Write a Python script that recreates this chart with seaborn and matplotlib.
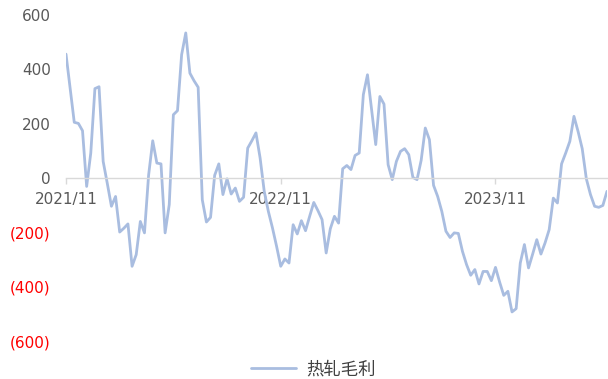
import matplotlib
matplotlib.use("Agg")
import matplotlib.pyplot as plt
import seaborn as sns
import pandas as pd
import numpy as np

series_name = "热轧毛利"
week_index = list(range(132))
margin_values = [
    456, 330, 205, 201, 174, -31, 92, 329, 336, 61,
    -20, -104, -68, -199, -185, -169, -325, -282, -160, -202,
    10, 137, 55, 52, -202, -98, 233, 248, 454, 534,
    386, 358, 334, -80, -162, -145, 10, 52, -61, -3,
    -59, -37, -86, -71, 110, 137, 166, 74, -49, -123,
    -184, -252, -325, -298, -313, -172, -206, -157, -194, -141,
    -90, -120, -153, -276, -187, -141, -166, 34, 46, 31,
    83, 92, 307, 380, 251, 123, 300, 272, 49, -6,
    61, 98, 108, 86, 2, -6, 65, 184, 141, -27,
    -68, -123, -196, -219, -202, -204, -270, -319, -358, -337,
    -390, -344, -344, -378, -329, -383, -432, -417, -493, -481,
    -313, -245, -331, -280, -227, -280, -239, -190, -74, -92,
    52, 92, 135, 227, 171, 108, -3, -61, -104, -108,
    -101, -49,
]
xtick_pos = [0, 52, 104]
xtick_labels = ["2021/11", "2022/11", "2023/11"]
ytick_vals = [600, 400, 200, 0, -200, -400, -600]
ytick_labels = ["600", "400", "200", "0", "(200)", "(400)", "(600)"]

df = pd.DataFrame({"week": week_index, "value": margin_values, "series": series_name})

sns.set_theme(style="white")
plt.rcParams["font.family"] = ["DejaVu Sans", "Noto Sans CJK SC"]

fig = plt.figure(figsize=(6.08, 3.79), dpi=100)
ax = fig.add_axes([66/608, 1 - 341/379, 541/608, (341 - 15)/379])

sns.lineplot(data=df, x="week", y="value", hue="series", palette=["#A9BDE0"],
             linewidth=2.0, ax=ax, legend=False)

ax.set_xlim(0, 131)
ax.set_ylim(-600, 600)
ax.set_xlabel("")
ax.set_ylabel("")

for s in ["top", "right", "left"]:
    ax.spines[s].set_visible(False)
ax.spines["bottom"].set_position(("data", 0))
ax.spines["bottom"].set_color("#D9D9D9")
ax.spines["bottom"].set_linewidth(1.0)

ax.set_xticks(xtick_pos)
ax.set_xticklabels(xtick_labels)
ax.tick_params(axis="x", direction="out", length=4, width=1, color="#D9D9D9",
               labelsize=11, labelcolor="#595959", pad=6, bottom=True)

ax.set_yticks(ytick_vals)
ax.set_yticklabels(ytick_labels)
ax.tick_params(axis="y", length=0, labelsize=11, pad=11, left=True)
for lab, v in zip(ax.get_yticklabels(), ytick_vals):
    lab.set_color("#FF0000" if v < 0 else "#595959")

handle = plt.Line2D([], [], color="#A9BDE0", linewidth=2.0)
fig.legend([handle], [series_name], loc="lower center", bbox_to_anchor=(0.515, -0.04),
           frameon=False, handlelength=2.6, handletextpad=0.6,
           prop={"family": ["Noto Sans CJK SC"], "size": 12.5},
           labelcolor="#404040")

fig.savefig("out.png", dpi=100)
